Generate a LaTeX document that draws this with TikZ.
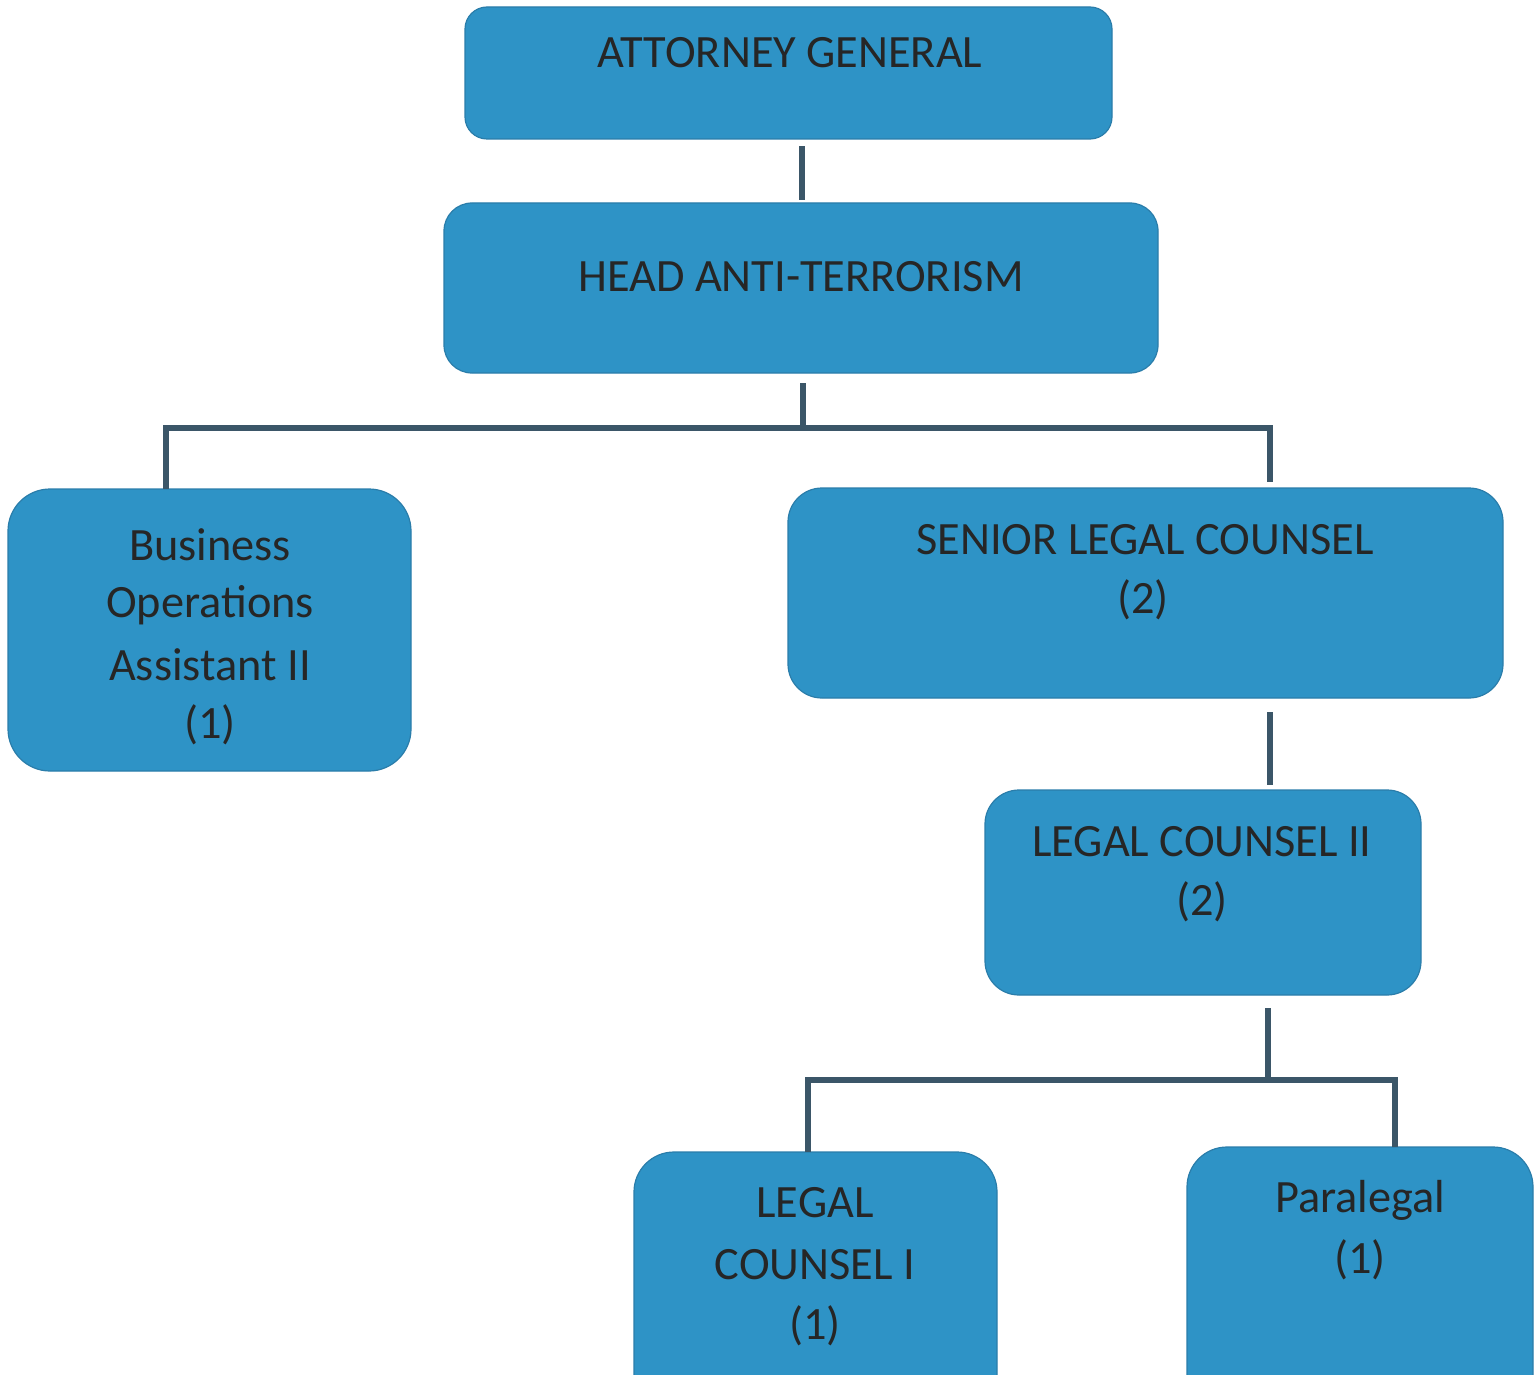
\documentclass[tikz,border=0pt]{standalone}
\usepackage{fontspec}
\setmainfont{Carlito}
\definecolor{boxfill}{HTML}{2E93C6}
\definecolor{boxline}{HTML}{2A7DAA}
\definecolor{connc}{HTML}{3B5668}
\tikzset{
  orgbox/.style={draw=boxline, line width=1.2bp, fill=boxfill, rounded corners=#1},
  orgbox/.default=30bp,
  lbl/.style={font=\fontsize{46.5}{60}\selectfont, text=black!85, inner sep=0pt, anchor=center},
  conn/.style={draw=connc, line width=6bp, line cap=butt, line join=miter}
}
\begin{document}
\begin{tikzpicture}[x=1bp,y=-1bp]
\useasboundingbox (0,0) rectangle (1539,1375);
\clip (0,0) rectangle (1539,1375);
% boxes
\draw[orgbox=22bp] (465,7) rectangle (1112,139);
\node (ag) at (788.5,73) [minimum width=647bp, minimum height=132bp, inner sep=0pt] {};
\draw[orgbox=28bp] (444,203) rectangle (1158,373);
\node (hat) at (801,288) [minimum width=714bp, minimum height=170bp, inner sep=0pt] {};
\draw[orgbox=42bp] (8,489) rectangle (411,771);
\node (boa) at (209.5,630) [minimum width=403bp, minimum height=282bp, inner sep=0pt] {};
\draw[orgbox=34bp] (788,488) rectangle (1503,698);
\node (slc) at (1145.5,593) [minimum width=715bp, minimum height=210bp, inner sep=0pt] {};
\draw[orgbox=34bp] (985,790) rectangle (1421,995);
\node (lc2) at (1203,892.5) [minimum width=436bp, minimum height=205bp, inner sep=0pt] {};
\draw[orgbox=40bp] (634,1152) rectangle (997,1420);
\node (lc1) at (815.5,1286) [minimum width=363bp, minimum height=268bp, inner sep=0pt] {};
\draw[orgbox=40bp] (1187,1147) rectangle (1533,1420);
\node (para) at (1360,1283.5) [minimum width=346bp, minimum height=273bp, inner sep=0pt] {};
% texts
\node[lbl] (tag) at (790,53) {ATTORNEY GENERAL};
\node[lbl] (that) at (801,277) {HEAD ANTI-TERRORISM};
\node[lbl] (tboa1) at (210,545) {Business};
\node[lbl] (tboa2) at (210,605) {Operations};
\node[lbl] (tboa3) at (210,665) {Assistant II};
\node[lbl] (tboa4) at (210,725) {(1)};
\node[lbl] (tslc1) at (1145,540) {SENIOR LEGAL COUNSEL};
\node[lbl] (tslc2) at (1143,600) {(2)};
\node[lbl] (tlc21) at (1202,842) {LEGAL COUNSEL II};
\node[lbl] (tlc22) at (1202,902) {(2)};
\node[lbl] (tlc11) at (815,1203) {LEGAL};
\node[lbl] (tlc12) at (815,1265) {COUNSEL I};
\node[lbl] (tlc13) at (815,1326) {(1)};
\node[lbl] (tpar1) at (1360,1200) {Paralegal};
\node[lbl] (tpar2) at (1360,1260) {(1)};
% connectors
\coordinate (j1) at (803,428);
\coordinate (j1l) at (166,428);
\coordinate (j1r) at (1270,428);
\coordinate (j2) at (1268,1080);
\coordinate (j2l) at (808,1080);
\coordinate (j2r) at (1395,1080);
\draw[conn, shorten <=7bp, shorten >=3bp] (ag.south -| 802,0) -- (hat.north -| 802,0);
\draw[conn, shorten <=10bp] (hat.south -| j1) -- (j1);
\draw[conn, shorten >=6bp] (boa.north -| j1l) -- (j1l) -- (j1r) -- (slc.north -| j1r);
\draw[conn, shorten <=14bp, shorten >=5bp] (slc.south -| j1r) -- (lc2.north -| j1r);
\draw[conn, shorten <=13bp] (lc2.south -| j2) -- (j2);
\draw[conn] (lc1.north -| j2l) -- (j2l) -- (j2r) -- (para.north -| j2r);
\end{tikzpicture}
\end{document}
